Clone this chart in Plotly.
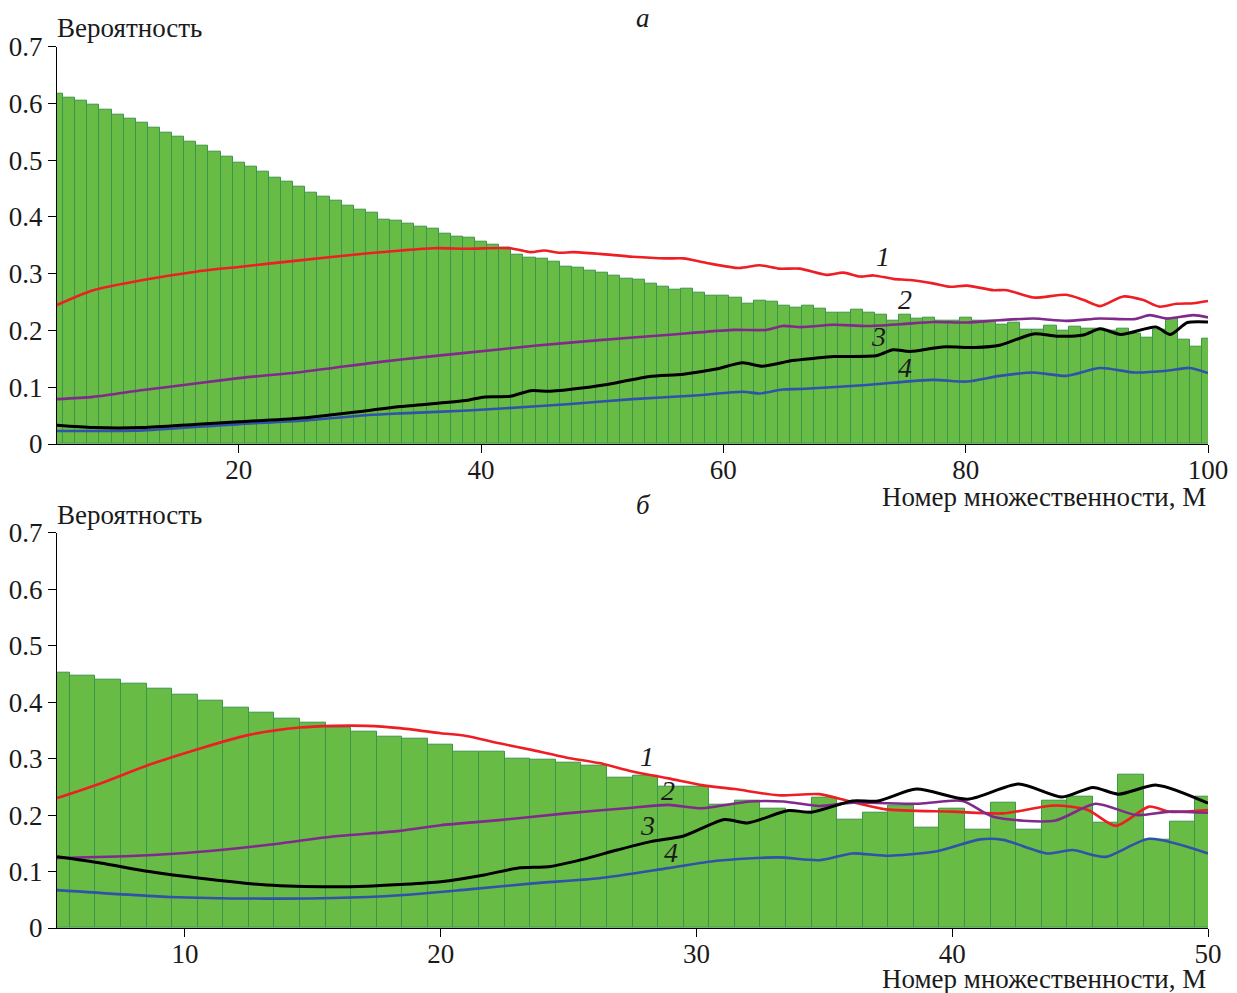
import plotly.graph_objects as go
from plotly.subplots import make_subplots

# ---------------- data: panel a ----------------
top_m = list(range(5, 101))
top_bars = [0.618, 0.611, 0.604, 0.597, 0.589, 0.581, 0.574, 0.566, 0.558, 0.549,
            0.541, 0.533, 0.525, 0.515, 0.507, 0.496, 0.489, 0.479, 0.470, 0.462,
            0.453, 0.443, 0.436, 0.429, 0.420, 0.413, 0.408, 0.396, 0.393, 0.388,
            0.383, 0.379, 0.371, 0.366, 0.363, 0.357, 0.351, 0.345, 0.333, 0.328,
            0.326, 0.321, 0.312, 0.311, 0.305, 0.301, 0.297, 0.292, 0.289, 0.282,
            0.278, 0.271, 0.273, 0.266, 0.262, 0.261, 0.257, 0.248, 0.252, 0.251,
            0.243, 0.241, 0.244, 0.239, 0.232, 0.232, 0.237, 0.231, 0.228, 0.218,
            0.228, 0.221, 0.223, 0.217, 0.217, 0.223, 0.217, 0.217, 0.211, 0.214,
            0.202, 0.202, 0.208, 0.200, 0.206, 0.203, 0.203, 0.199, 0.203, 0.194,
            0.188, 0.202, 0.220, 0.183, 0.171, 0.186]

top_red_x = [5, 8, 12.1, 16.6, 20, 25.2, 30.7, 33.4, 36.1, 38.9, 42.4, 44.1, 45.2, 46.5, 47.6,
             49.8, 52.5, 55.3, 56.7, 58.6, 61.3, 63.0, 64.6, 66.3, 68.5, 69.9, 71.3, 72.4, 74.0,
             75.4, 77.3, 78.7, 80.1, 82.3, 83.4, 85.6, 88.3, 89.7, 91.1, 93.0, 94.6, 96.0, 97.4,
             98.8, 100]
top_red_y = [0.245, 0.271, 0.289, 0.304, 0.312, 0.324, 0.336, 0.341, 0.345, 0.344, 0.345, 0.338,
             0.341, 0.337, 0.338, 0.335, 0.330, 0.327, 0.327, 0.319, 0.310, 0.315, 0.309, 0.309,
             0.298, 0.302, 0.295, 0.297, 0.291, 0.289, 0.283, 0.277, 0.279, 0.271, 0.271, 0.258,
             0.263, 0.254, 0.243, 0.260, 0.254, 0.242, 0.247, 0.248, 0.252]

top_purple_x = [5, 8, 12.1, 16.6, 20, 25.2, 30.7, 33.4, 38.9, 44.4, 49.8, 55.3, 60.8, 63.5, 64.9,
                66.4, 69.1, 71.8, 74.6, 77.3, 80.1, 82.8, 85.6, 88.3, 91.1, 93.9, 95.2, 96.6,
                98.8, 100]
top_purple_y = [0.079, 0.083, 0.095, 0.107, 0.116, 0.127, 0.142, 0.149, 0.161, 0.173, 0.183, 0.192,
                0.201, 0.201, 0.208, 0.206, 0.210, 0.208, 0.211, 0.215, 0.214, 0.218, 0.221, 0.217,
                0.221, 0.220, 0.227, 0.221, 0.227, 0.223]

top_black_x = [5, 8, 12.1, 16.6, 20, 25.2, 30.7, 33.4, 38.9, 40.3, 42.4, 44.1, 45.7, 48.5, 51.2,
               53.9, 56.7, 59.4, 61.6, 63.2, 65.7, 67.5, 69.1, 72.7, 74.0, 75.4, 78.1, 80.8, 82.8,
               85.6, 87.5, 89.7, 91.1, 92.8, 95.7, 96.9, 98.3, 100]
top_black_y = [0.033, 0.029, 0.029, 0.035, 0.039, 0.046, 0.059, 0.066, 0.077, 0.083, 0.084, 0.094,
               0.093, 0.099, 0.108, 0.119, 0.123, 0.132, 0.143, 0.137, 0.147, 0.151, 0.154, 0.156,
               0.166, 0.163, 0.171, 0.170, 0.174, 0.194, 0.190, 0.192, 0.203, 0.193, 0.206, 0.193,
               0.214, 0.215]

top_blue_x = [5, 12.1, 20, 25.2, 30.7, 33.4, 38.9, 47.1, 52.5, 58, 61.6, 63, 64.9, 66.4, 71.8,
              77.3, 80.1, 82.8, 85.6, 88.3, 91.1, 93.9, 96.6, 98.5, 100]
top_blue_y = [0.023, 0.024, 0.035, 0.041, 0.051, 0.054, 0.059, 0.070, 0.079, 0.086, 0.092, 0.089,
              0.096, 0.097, 0.104, 0.113, 0.110, 0.120, 0.126, 0.120, 0.134, 0.126, 0.129, 0.134,
              0.125]

# ---------------- data: panel б ----------------
bot_m = list(range(5, 51))
bot_bars = [0.452, 0.446, 0.440, 0.432, 0.423, 0.413, 0.403, 0.391, 0.381, 0.371,
            0.364, 0.355, 0.347, 0.339, 0.335, 0.324, 0.312, 0.312, 0.300, 0.298,
            0.292, 0.287, 0.267, 0.269, 0.250, 0.250, 0.218, 0.225, 0.212, 0.206,
            0.231, 0.191, 0.205, 0.216, 0.177, 0.211, 0.174, 0.222, 0.174, 0.225,
            0.232, 0.186, 0.271, 0.156, 0.188, 0.232]

bot_red_x = [5, 6.7, 8.6, 10.6, 12.5, 14.5, 15.8, 17.1, 18.4, 20, 21, 22.3, 23.6, 24.9, 26.2, 27.5,
             28.9, 30.2, 31.5, 33.2, 34.8, 36.0, 37.4, 40.0, 42.0, 44.0, 45.3, 46.4, 47.7, 48.5, 50]
bot_red_y = [0.230, 0.256, 0.289, 0.318, 0.342, 0.355, 0.358, 0.358, 0.354, 0.345, 0.340, 0.327,
             0.315, 0.302, 0.292, 0.277, 0.265, 0.253, 0.246, 0.235, 0.237, 0.224, 0.210, 0.206,
             0.203, 0.217, 0.209, 0.181, 0.215, 0.206, 0.209]

bot_purple_x = [5, 8.1, 10.6, 13.2, 15.8, 18.4, 20, 22.3, 24.9, 27.5, 28.9, 30.2, 32.1, 33.4, 34.8,
                36.1, 38.7, 40.4, 41.6, 44.0, 45.6, 47.2, 48.5, 50]
bot_purple_y = [0.124, 0.128, 0.135, 0.147, 0.162, 0.172, 0.182, 0.191, 0.203, 0.213, 0.218, 0.212,
                0.224, 0.224, 0.216, 0.222, 0.220, 0.225, 0.197, 0.190, 0.220, 0.200, 0.206, 0.204]

bot_black_x = [5, 6.7, 8.6, 10.6, 13.2, 15.8, 17.1, 18.4, 20, 21.7, 23, 24.3, 25.6, 26.9, 28.2, 29.5,
               31.1, 32.0, 33.6, 34.5, 36.1, 37.1, 38.6, 40.6, 42.6, 44.3, 45.5, 46.5, 48.0, 50]
bot_black_y = [0.126, 0.115, 0.100, 0.088, 0.076, 0.073, 0.074, 0.077, 0.082, 0.094, 0.106, 0.109,
               0.122, 0.138, 0.153, 0.163, 0.192, 0.186, 0.208, 0.205, 0.225, 0.225, 0.246, 0.228,
               0.255, 0.232, 0.249, 0.237, 0.253, 0.221]

bot_blue_x = [5, 9.4, 13.2, 15.8, 18.4, 21, 23.6, 26.2, 28.9, 30.8, 33.2, 34.8, 36.1, 37.4, 39.4,
              41.1, 42.0, 43.7, 44.7, 46.0, 47.7, 50]
bot_blue_y = [0.067, 0.055, 0.052, 0.053, 0.058, 0.068, 0.079, 0.088, 0.106, 0.119, 0.125, 0.120,
              0.132, 0.128, 0.136, 0.157, 0.156, 0.132, 0.138, 0.126, 0.158, 0.132]

y_ticks = [0, 0.1, 0.2, 0.3, 0.4, 0.5, 0.6, 0.7]
y_ticktext = ["0", "0.1", "0.2", "0.3", "0.4", "0.5", "0.6", "0.7"]
top_xticks = [20, 40, 60, 80, 100]
bot_xticks = [10, 20, 30, 40, 50]
line_labels = ["1", "2", "3", "4"]
top_label_pos = [(73.2, 0.331), (75.0, 0.254), (72.8, 0.189), (75.0, 0.134)]
bot_label_pos = [(28.05, 0.303), (28.9, 0.243), (28.1, 0.181), (29.0, 0.133)]

# ---------------- styling / layout ----------------
# page has an 8px body margin; figure occupies page px 8..1237 x 8..993
OFF = 8
W, H = 1237 - OFF, 993 - OFF
# page-pixel plot area: x 57..1208, y 46..928
ML, MR, MT, MB = 57 - OFF, 1237 - 1208, 46 - OFF, 993 - 928
PW, PH = W - ML - MR, H - MT - MB


def px2x(px):  # page pixel -> paper x
    return (px - OFF - ML) / PW


def px2y(py):  # page pixel -> paper y
    return 1 - (py - OFF - MT) / PH


FONT = "Liberation Serif, Times New Roman, serif"
TXT = "#1a1a1a"
GREEN = "rgb(104,187,69)"
GREEN_EDGE = "rgb(58,150,72)"
RED = "rgb(237,30,36)"
PURPLE = "rgb(128,42,140)"
BLACK = "rgb(0,0,0)"
BLUE = "rgb(48,82,168)"

fig = make_subplots(rows=2, cols=1)


def add_panel(row, m, bars, lines):
    fig.add_trace(go.Bar(x=m, y=bars, width=1, marker=dict(color=GREEN,
                         line=dict(color=GREEN_EDGE, width=1)), showlegend=False,
                         hoverinfo="skip"), row=row, col=1)
    for (lx, ly, col, w) in lines:
        fig.add_trace(go.Scatter(x=lx, y=ly, mode="lines",
                                 line=dict(color=col, width=w, shape="spline", smoothing=0.7),
                                 showlegend=False), row=row, col=1)


add_panel(1, top_m, top_bars, [
    (top_red_x, top_red_y, RED, 2.6),
    (top_purple_x, top_purple_y, PURPLE, 2.6),
    (top_blue_x, top_blue_y, BLUE, 2.6),
    (top_black_x, top_black_y, BLACK, 3),
])
add_panel(2, bot_m, bot_bars, [
    (bot_red_x, bot_red_y, RED, 2.6),
    (bot_purple_x, bot_purple_y, PURPLE, 2.6),
    (bot_blue_x, bot_blue_y, BLUE, 2.6),
    (bot_black_x, bot_black_y, BLACK, 3),
])

axis_common = dict(showgrid=False, zeroline=False, showline=True, linecolor="black", linewidth=1.3,
                   ticks="outside", tickcolor="black", tickwidth=1.3, automargin=False,
                   tickfont=dict(family=FONT, size=27, color=TXT))

fig.update_xaxes(range=[5, 100], tickvals=top_xticks, ticklen=8, ticklabelstandoff=-7,
                 domain=[0, 1], row=1, col=1, **axis_common)
fig.update_xaxes(range=[5, 50], tickvals=bot_xticks, ticklen=8, ticklabelstandoff=-7,
                 domain=[0, 1], row=2, col=1, **axis_common)
fig.update_yaxes(range=[0, 0.7], tickvals=y_ticks, ticktext=y_ticktext, ticklen=8,
                 domain=[px2y(444), px2y(46.7)], row=1, col=1, **axis_common)
fig.update_yaxes(range=[0, 0.7], tickvals=y_ticks, ticktext=y_ticktext, ticklen=8,
                 domain=[px2y(928), px2y(532.7)], row=2, col=1, **axis_common)

ann = []
txt_font = dict(family=FONT, size=27, color=TXT)
for yy in (28, 515):
    ann.append(dict(text="Вероятность", xref="paper", yref="paper", x=px2x(55), y=px2y(yy),
                    xanchor="left", yanchor="middle", showarrow=False, font=txt_font))
for yy in (497, 979):
    ann.append(dict(text="Номер множественности, M", xref="paper", yref="paper", x=px2x(1208),
                    y=px2y(yy), xanchor="right", yanchor="middle", showarrow=False, font=txt_font))
ann.append(dict(text="<i>а</i>", xref="paper", yref="paper", x=px2x(643), y=px2y(18),
                xanchor="center", yanchor="middle", showarrow=False,
                font=dict(family=FONT, size=27, color=TXT)))
ann.append(dict(text="<i>б</i>", xref="paper", yref="paper", x=px2x(643), y=px2y(505),
                xanchor="center", yanchor="middle", showarrow=False,
                font=dict(family=FONT, size=27, color=TXT)))
for lab, (lx, ly) in zip(line_labels, top_label_pos):
    ann.append(dict(text="<i>" + lab + "</i>", xref="x", yref="y", x=lx, y=ly, showarrow=False,
                    font=dict(family=FONT, size=28, color=TXT)))
for lab, (lx, ly) in zip(line_labels, bot_label_pos):
    ann.append(dict(text="<i>" + lab + "</i>", xref="x2", yref="y2", x=lx, y=ly, showarrow=False,
                    font=dict(family=FONT, size=28, color=TXT)))

fig.update_layout(width=W, height=H, margin=dict(l=ML, r=MR, t=MT, b=MB),
                  paper_bgcolor="white", plot_bgcolor="white", bargap=0, barmode="overlay",
                  annotations=ann, font=dict(family=FONT))

fig.write_html("out.html")
